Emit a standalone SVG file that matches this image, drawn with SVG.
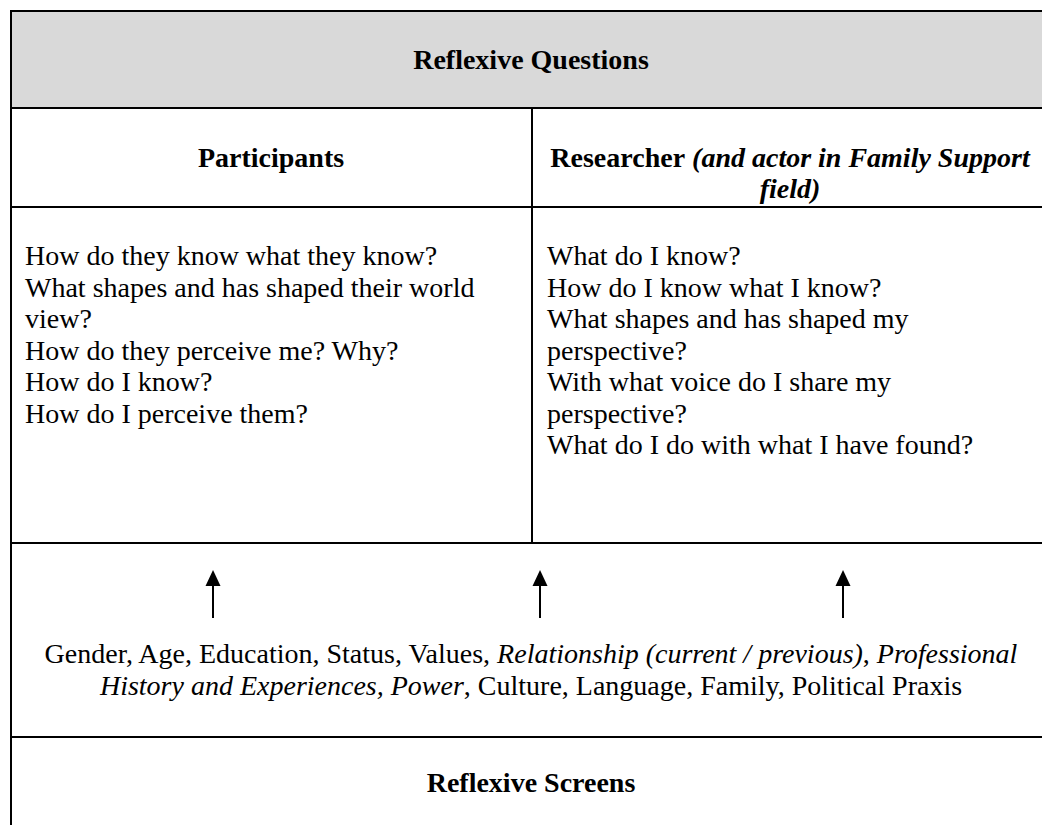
<svg xmlns="http://www.w3.org/2000/svg" width="1042" height="825" viewBox="0 0 1042 825">
<style>
text{font-family:"Liberation Serif","Times New Roman",serif;font-size:28px;fill:#000}
.b{font-weight:bold}
.i{font-style:italic}
.m{text-anchor:middle}
.ln{stroke:#000;stroke-width:2;fill:none}
.ar{stroke:#000;stroke-width:2}
</style>
<g id="grid">
<rect x="11" y="11" width="1040" height="97" fill="#d9d9d9"/>
<line class="ln" x1="11" y1="11" x2="1042" y2="11"/>
<line class="ln" x1="11" y1="10" x2="11" y2="825"/>
<line class="ln" x1="11" y1="108" x2="1042" y2="108"/>
<line class="ln" x1="11" y1="207" x2="1042" y2="207"/>
<line class="ln" x1="532" y1="108" x2="532" y2="543"/>
<line class="ln" x1="11" y1="543" x2="1042" y2="543"/>
<line class="ln" x1="11" y1="737" x2="1042" y2="737"/>
</g>
<g id="header">
<text class="b m" x="531" y="69">Reflexive Questions</text>
</g>
<g id="participants-head">
<text class="b m" x="271" y="167">Participants</text>
</g>
<g id="researcher-head">
<text class="m" x="790" y="167"><tspan class="b">Researcher</tspan> <tspan class="b i">(and actor in Family Support</tspan></text>
<text class="b i m" x="790" y="198">field)</text>
</g>
<g id="participants-questions">
<text x="25" y="265">How do they know what they know?</text>
<text x="25" y="296.5">What shapes and has shaped their world</text>
<text x="25" y="328">view?</text>
<text x="25" y="359.5">How do they perceive me? Why?</text>
<text x="25" y="391">How do I know?</text>
<text x="25" y="422.5">How do I perceive them?</text>
</g>
<g id="researcher-questions">
<text x="547" y="265">What do I know?</text>
<text x="547" y="296.5">How do I know what I know?</text>
<text x="547" y="328">What shapes and has shaped my</text>
<text x="547" y="359.5">perspective?</text>
<text x="547" y="391">With what voice do I share my</text>
<text x="547" y="422.5">perspective?</text>
<text x="547" y="454">What do I do with what I have found?</text>
</g>
<g id="connectors">
<line class="ar" x1="213" y1="618" x2="213" y2="585"/>
<path d="M213,570 L205.5,586 L220.5,586 z" fill="#000"/>
<line class="ar" x1="540" y1="618" x2="540" y2="585"/>
<path d="M540,570 L532.5,586 L547.5,586 z" fill="#000"/>
<line class="ar" x1="843" y1="618" x2="843" y2="585"/>
<path d="M843,570 L835.5,586 L850.5,586 z" fill="#000"/>
</g>
<g id="factors">
<text class="m" x="531" y="663">Gender, Age, Education, Status, Values, <tspan class="i">Relationship (current / previous)</tspan>, <tspan class="i">Professional</tspan></text>
<text class="m" x="531" y="694.5"><tspan class="i">History and Experiences, Power</tspan>, Culture, Language, Family, Political Praxis</text>
</g>
<g id="screens">
<text class="b m" x="531" y="792">Reflexive Screens</text>
</g>
</svg>
